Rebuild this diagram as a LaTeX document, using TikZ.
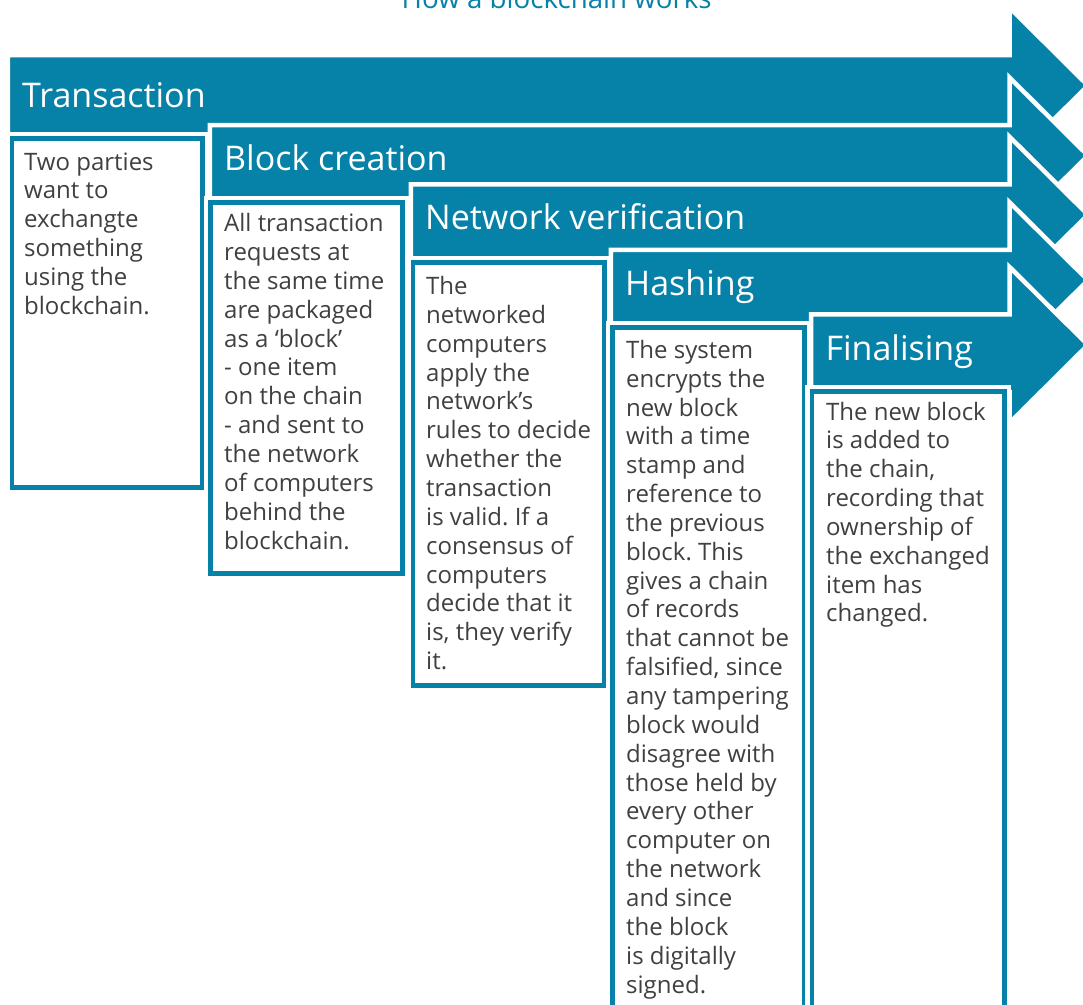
\documentclass[tikz,border=0pt]{standalone}
\usepackage{fontspec}
\setmainfont{Open Sans}
\frenchspacing
\definecolor{teal1}{RGB}{6,129,167}
\definecolor{txtgray}{RGB}{64,64,64}
\newcommand{\stack}[1]{\begin{tabular}[t]{@{}l@{}}#1\end{tabular}}
\newcommand{\bcarrow}[3]{%
  \pgfmathsetmacro{\arrHT}{#2-47.5}%
  \pgfmathsetmacro{\arrTP}{#2+30.5}%
  \pgfmathsetmacro{\arrHB}{#2+108.5}%
  \draw[arrowshape] (#1,#2) -- (1009.5,#2) -- (1009.5,\arrHT) -- (1088,\arrTP)
     -- (1009.5,\arrHB) -- (1009.5,#3) -- (#1,#3) -- cycle;}
\newcommand{\bcbox}[4]{%
  \draw[boxouter] (#1,#2) rectangle (#3,#4);
  \draw[boxinner] (#1,#2) rectangle (#3,#4);}
\tikzset{
  arrowshape/.style={fill=teal1, draw=white, line width=4.5pt, line join=miter},
  boxouter/.style={draw=white, line width=13.7pt},
  boxinner/.style={draw=teal1, fill=white, line width=4.7pt},
  headtxt/.style={anchor=base west, inner sep=0pt, text=white, font=\fontsize{34}{40}\selectfont},
  bodytxt/.style={anchor=base west, inner sep=0pt, text=txtgray, font=\fontsize{24}{28.85}\selectfont},
  titletxt/.style={anchor=base, inner sep=0pt, text=teal1, font=\fontsize{27.7}{33}\selectfont}
}
\begin{document}
\begin{tikzpicture}[x=1pt,y=-1pt]
\useasboundingbox (0,0) rectangle (1083,1004);
\clip (0,0) rectangle (1083,1004);

\node[titletxt] (title) at (556.7,8.3) {How a blockchain works};

% Step 1
\bcarrow{7.75}{55.05}{139}
\node[headtxt] (h1) at (22,107.3) {Transaction};
\bcbox{11.85}{138.35}{202.65}{487.65}
\node[bodytxt] (b1) at (24,170) {\stack{Two parties\\want to\\exchangte\\something\\using the\\blockchain.}};

% Step 2
\bcarrow{209.75}{125.05}{203}
\node[headtxt] (h2) at (224,170) {Block creation};
\bcbox{210.35}{202.35}{402.65}{573.65}
\node[bodytxt] (b2) at (224,231.7) {\stack{All transaction\\requests at\\the same time\\are packaged\\as a ‘block’\\- one item\\on the chain\\- and sent to\\the network\\of computers\\behind the\\blockchain.}};

% Step 3
\bcarrow{410.75}{184.25}{263}
\node[headtxt] (h3) at (425,229.5) {Network verification};
\bcbox{413}{262.35}{604.65}{685.65}
\node[bodytxt] (b3) at (426,294.5) {\stack{The\\networked\\computers\\apply the\\network’s\\rules to decide\\whether the\\transaction\\is valid. If a\\consensus of\\computers\\decide that it\\is, they verify\\it.}};

% Step 4
\bcarrow{610.75}{249.75}{328}
\node[headtxt] (h4) at (625,295) {Hashing};
\bcbox{612.35}{327.35}{804.15}{1020}
\node[bodytxt] (b4) at (626,358.3) {\stack{The system\\encrypts the\\new block\\with a time\\stamp and\\reference to\\the previous\\block. This\\gives a chain\\of records\\that cannot be\\falsified, since\\any tampering\\block would\\disagree with\\those held by\\every other\\computer on\\the network\\and since\\the block\\is digitally\\signed.}};

% Step 5
\bcarrow{811.05}{314.45}{392}
\node[headtxt] (h5) at (825.3,360) {Finalising};
\bcbox{811.85}{391.35}{1004.15}{1020}
\node[bodytxt] (b5) at (826,420) {\stack{The new block\\is added to\\the chain,\\recording that\\ownership of\\the exchanged\\item has\\changed.}};
\end{tikzpicture}
\end{document}
